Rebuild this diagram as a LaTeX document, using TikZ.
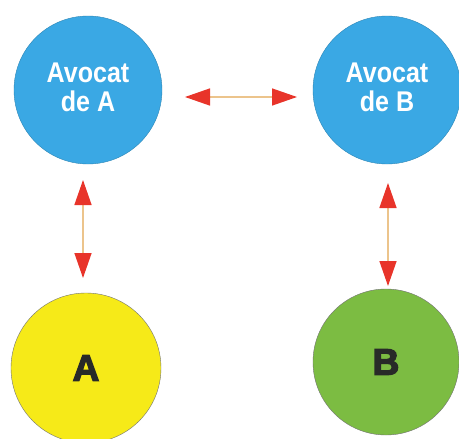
\documentclass[tikz,border=0pt]{standalone}
\usepackage{fontspec}
\setmainfont{Liberation Sans}
\newfontfamily\labelfont[FakeStretch=0.88]{Liberation Sans Bold}
\newfontfamily\heavyfont[FakeBold=3.5]{Liberation Sans Bold}
\usetikzlibrary{arrows.meta}
\definecolor{lawyerblue}{RGB}{58,168,228}
\definecolor{partyyellow}{RGB}{246,234,24}
\definecolor{partygreen}{RGB}{124,188,66}
\definecolor{tipred}{RGB}{232,52,42}
\definecolor{linktan}{RGB}{236,196,140}
\definecolor{lettergray}{RGB}{40,42,40}
\begin{document}
\begin{tikzpicture}[x=1pt,y=-1pt,
  lawyer/.style={circle,fill=lawyerblue,draw=lawyerblue!80!black,line width=0.4pt,
    minimum size=148pt,inner sep=0pt,text=white,align=center},
  lawyertext/.style={text=white,align=center,inner sep=0pt,
    font=\labelfont\fontsize{28.5}{29}\selectfont},
  party/.style={circle,draw=black!55,line width=0.4pt,minimum size=150pt,inner sep=0pt,
    text=lettergray,font=\heavyfont\fontsize{37}{40}\selectfont},
  link/.style={draw=linktan,line width=1.4pt,
    {Triangle[length=25pt,width=17pt,fill=tipred,color=tipred]}-{Triangle[length=25pt,width=17pt,fill=tipred,color=tipred]}}
]
\useasboundingbox (0,0) rectangle (459,439);
\clip (0,0) rectangle (459,439);
\fill[white] (0,0) rectangle (459,439);
\node[lawyer] (la) at (88,90) {};
\node[lawyer] (lb) at (387,90) {};
\node[lawyertext] (ta) at (88,87) {Avocat\\de A};
\node[lawyertext] (tb) at (387,87) {Avocat\\de B};
\node[party,fill=partyyellow] (pa) at (86,368) {A};
\node[party,fill=partygreen,minimum size=146pt] (pb) at (386,362) {B};
\coordinate (h1) at (185,97);
\coordinate (h2) at (297,97);
\coordinate (v1) at (83,180);
\coordinate (v2) at (83,278);
\coordinate (w1) at (388,183);
\coordinate (w2) at (388,286);
\draw[link] (h1) -- (h2);
\draw[link] (v1) -- (v2);
\draw[link] (w1) -- (w2);
\end{tikzpicture}
\end{document}
